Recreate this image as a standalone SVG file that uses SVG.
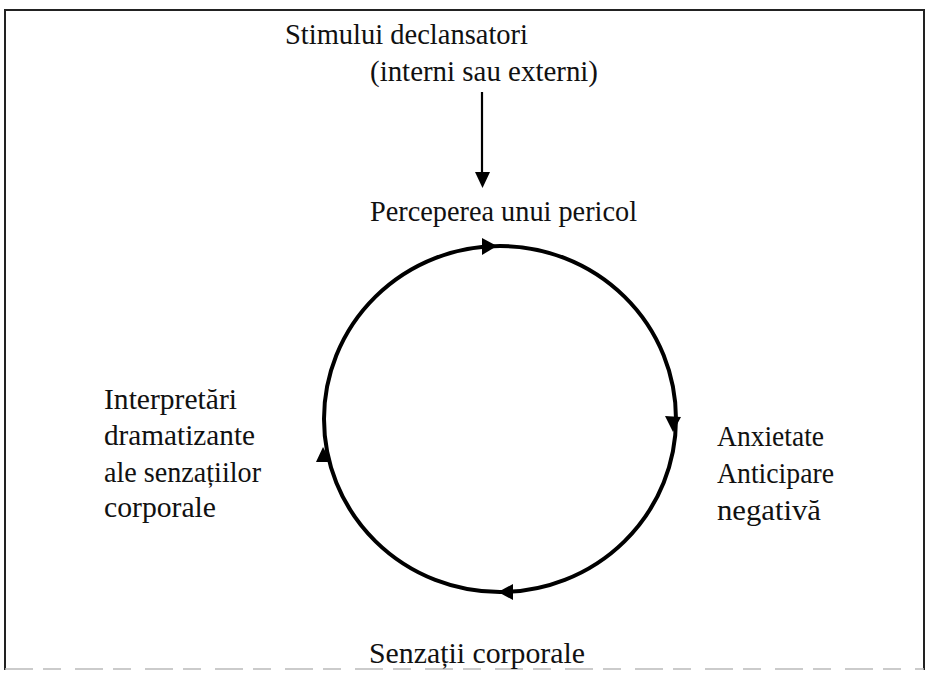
<svg xmlns="http://www.w3.org/2000/svg" width="927" height="674" viewBox="0 0 927 674">
  <style>
    text { font-family: 'Liberation Serif', 'Times New Roman', 'DejaVu Serif', serif; font-size: 30px; fill: #111; }
    .frame { fill: none; stroke: #222; stroke-width: 2; }
    .cycle { fill: none; stroke: #000; stroke-width: 4; }
    .head { fill: #000; }
  </style>
  <rect width="927" height="674" fill="#fff"/>

  <!-- outer frame -->
  <g id="frame">
    <path class="frame" d="M5,670 V10 H924 V670"/>
    <path d="M5,669 H924" fill="none" stroke="#bbb" stroke-width="1.5" stroke-dasharray="28 10 18 14"/>
  </g>

  <!-- nodes -->
  <g id="stimulus">
    <text x="285" y="44" textLength="243" lengthAdjust="spacingAndGlyphs">Stimului declansatori</text>
    <text x="370" y="81" textLength="228" lengthAdjust="spacingAndGlyphs">(interni sau externi)</text>
  </g>
  <g id="perception">
    <text x="370" y="221" textLength="267" lengthAdjust="spacingAndGlyphs">Perceperea unui pericol</text>
  </g>
  <g id="anxiety">
    <text x="717" y="446" textLength="107" lengthAdjust="spacingAndGlyphs">Anxietate</text>
    <text x="717" y="483" textLength="117" lengthAdjust="spacingAndGlyphs">Anticipare</text>
    <text x="717" y="520" textLength="104" lengthAdjust="spacingAndGlyphs">negativă</text>
  </g>
  <g id="sensations">
    <text x="369" y="663" textLength="216" lengthAdjust="spacingAndGlyphs">Senzații corporale</text>
  </g>
  <g id="interpretation">
    <text x="104" y="409" textLength="133" lengthAdjust="spacingAndGlyphs">Interpretări</text>
    <text x="104" y="445" textLength="151" lengthAdjust="spacingAndGlyphs">dramatizante</text>
    <text x="104" y="482" textLength="157" lengthAdjust="spacingAndGlyphs">ale senzațiilor</text>
    <text x="104" y="517" textLength="112" lengthAdjust="spacingAndGlyphs">corporale</text>
  </g>

  <!-- connectors -->
  <g id="connectors">
    <line x1="482" y1="92" x2="482" y2="175" stroke="#000" stroke-width="2.2"/>
    <path class="head" d="M475,172 L490,172 L482.5,188 Z"/>
    <ellipse class="cycle" cx="500" cy="419" rx="176" ry="173"/>
    <!-- direction marks on the cycle -->
    <path class="head" d="M497,246 L482,238 L482,255 Z"/>
    <path class="head" d="M673,432 L665,416 L681,417 Z"/>
    <path class="head" d="M498,592 L513,584 L513,600 Z"/>
    <path class="head" d="M323,447 L316,462 L331,462 Z"/>
  </g>
</svg>
